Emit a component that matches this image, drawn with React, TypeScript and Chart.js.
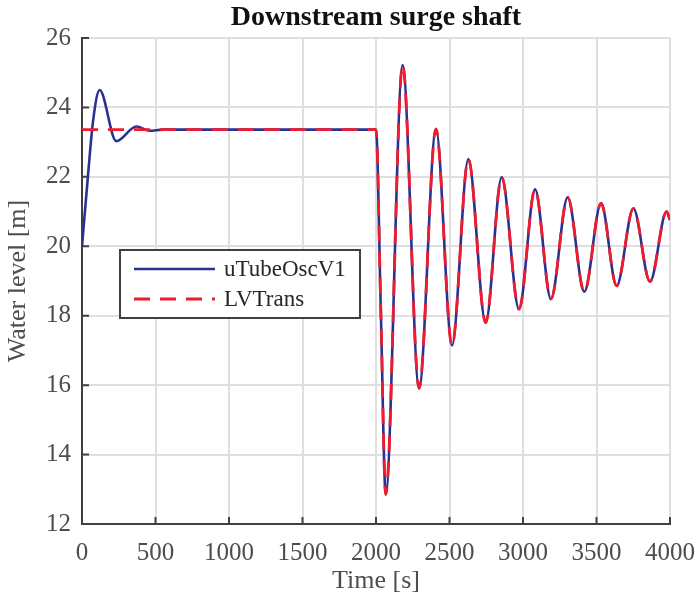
import React, { useEffect, useRef } from "react";
import { Chart, registerables } from "chart.js";

Chart.register(...registerables);

const blueTime = [0, 40, 75, 120, 233, 370, 460, 550, 2000, 2033, 2066, 2181, 2293, 2408, 2517, 2628, 2746, 2855, 2973, 3082, 3190, 3304, 3417, 3531, 3637, 3751, 3864, 3977, 4000];
const blueLevel = [20, 22, 23.6, 24.5, 23.03, 23.45, 23.33, 23.36, 23.36, 18.1, 12.85, 25.22, 15.91, 23.38, 17.14, 22.51, 17.8, 21.99, 18.19, 21.64, 18.48, 21.41, 18.69, 21.24, 18.86, 21.09, 18.98, 21.0, 20.76];
const redTime = [0, 2000, 2033, 2066, 2181, 2293, 2408, 2517, 2628, 2746, 2855, 2973, 3082, 3190, 3304, 3417, 3531, 3637, 3751, 3864, 3977, 4000];
const redLevel = [23.36, 23.36, 18.1, 12.85, 25.22, 15.91, 23.38, 17.14, 22.51, 17.8, 21.99, 18.19, 21.64, 18.48, 21.41, 18.69, 21.24, 18.86, 21.09, 18.98, 21.0, 20.76];
const seriesNames = ["uTubeOscV1", "LVTrans"];
const xTicks = [0, 500, 1000, 1500, 2000, 2500, 3000, 3500, 4000];
const yTicks = [12, 14, 16, 18, 20, 22, 24, 26];

const FONT = "'Liberation Serif', 'Times New Roman', serif";
const BLUE = "#2b3190";
const RED = "#ee1c2e";
const AXIS = "#404040";

const tickMarks = {
  id: "tickMarks",
  beforeDatasetsDraw(chart: any) {
    const { ctx, chartArea, scales } = chart;
    ctx.save();
    ctx.strokeStyle = AXIS;
    ctx.lineWidth = 2;
    ctx.beginPath();
    for (const v of yTicks) {
      const y = scales.y.getPixelForValue(v);
      ctx.moveTo(chartArea.left, y);
      ctx.lineTo(chartArea.left + 7, y);
    }
    for (const v of xTicks) {
      const x = scales.x.getPixelForValue(v);
      ctx.moveTo(x, chartArea.bottom);
      ctx.lineTo(x, chartArea.bottom - 7);
    }
    ctx.stroke();
    ctx.restore();
  },
};

const boxLegend = {
  id: "boxLegend",
  afterDatasetsDraw(chart: any) {
    const { ctx, chartArea } = chart;
    const bx = chartArea.left + 38;
    const by = chartArea.top + 212;
    const bw = 240;
    const bh = 68;
    ctx.save();
    ctx.fillStyle = "#ffffff";
    ctx.fillRect(bx, by, bw, bh);
    ctx.strokeStyle = AXIS;
    ctx.lineWidth = 2;
    ctx.strokeRect(bx, by, bw, bh);
    const dsList = chart.data.datasets;
    dsList.forEach((ds: any, i: number) => {
      const y = by + 19 + i * 30;
      ctx.beginPath();
      ctx.strokeStyle = ds.borderColor;
      ctx.lineWidth = ds.borderWidth;
      ctx.setLineDash(ds.borderDash || []);
      ctx.moveTo(bx + 14, y);
      ctx.lineTo(bx + 95, y);
      ctx.stroke();
      ctx.setLineDash([]);
      ctx.fillStyle = "#262626";
      ctx.font = `23px ${FONT}`;
      ctx.textBaseline = "middle";
      ctx.textAlign = "left";
      ctx.fillText(ds.label, bx + 104, y + 1);
    });
    ctx.restore();
  },
};

export default function App() {
  const ref = useRef<HTMLCanvasElement>(null);
  useEffect(() => {
    document.body.style.margin = "0";
    const chart = new Chart(ref.current!, {
      type: "line",
      data: {
        datasets: [
          {
            label: seriesNames[0],
            data: blueTime.map((t, i) => ({ x: t, y: blueLevel[i] })),
            borderColor: BLUE,
            borderWidth: 2.6,
            pointRadius: 0,
            cubicInterpolationMode: "monotone",
            fill: false,
            order: 1,
          },
          {
            label: seriesNames[1],
            data: redTime.map((t, i) => ({ x: t, y: redLevel[i] })),
            borderColor: RED,
            borderWidth: 2.8,
            borderDash: [16, 10],
            pointRadius: 0,
            cubicInterpolationMode: "monotone",
            fill: false,
            order: 0,
          },
        ],
      },
      options: {
        animation: false,
        responsive: false,
        layout: { padding: { left: 0, right: 27, top: 0, bottom: 0 } },
        plugins: {
          legend: { display: false },
          tooltip: { enabled: false },
          title: {
            display: true,
            text: "Downstream surge shaft",
            fullSize: false,
            color: "#111111",
            font: { family: FONT, size: 28, weight: "bold", lineHeight: 1 },
            padding: { top: 4, bottom: 6 },
          },
        },
        scales: {
          x: {
            type: "linear",
            min: 0,
            max: 4000,
            afterBuildTicks: (s: any) => {
              s.ticks = xTicks.map((v) => ({ value: v }));
            },
            afterFit: (s: any) => {
              s.height = 73;
              s.paddingLeft = 0;
              s.paddingRight = 0;
            },
            ticks: {
              color: "#4d4d4d",
              font: { family: FONT, size: 25 },
              padding: 14,
              maxRotation: 0,
              autoSkip: false,
              callback: (v: any) => String(v),
            },
            grid: { color: "#dfdfdf", lineWidth: 2, drawTicks: false },
            border: { display: true, color: AXIS, width: 2 },
            title: {
              display: true,
              text: "Time [s]",
              color: "#4d4d4d",
              font: { family: FONT, size: 26, lineHeight: 1.2 },
              padding: { top: 0, bottom: 0 },
            },
          },
          y: {
            type: "linear",
            min: 12,
            max: 26,
            afterBuildTicks: (s: any) => {
              s.ticks = yTicks.map((v) => ({ value: v }));
            },
            afterFit: (s: any) => {
              s.width = 82;
              s.paddingTop = 0;
              s.paddingBottom = 0;
            },
            ticks: {
              color: "#4d4d4d",
              font: { family: FONT, size: 25 },
              padding: 11,
              autoSkip: false,
              callback: (v: any) => String(v),
            },
            grid: { color: "#dfdfdf", lineWidth: 2, drawTicks: false },
            border: { display: true, color: AXIS, width: 2 },
            title: {
              display: true,
              text: "Water level [m]",
              color: "#4d4d4d",
              font: { family: FONT, size: 26, lineHeight: 1.2 },
              padding: { top: 3, bottom: 0 },
            },
          },
        },
      },
      plugins: [tickMarks, boxLegend],
    } as any);
    return () => chart.destroy();
  }, []);
  return (
    <div style={{ width: 697, height: 597 }}>
      <canvas ref={ref} width={697} height={597} style={{ display: "block" }} />
    </div>
  );
}
